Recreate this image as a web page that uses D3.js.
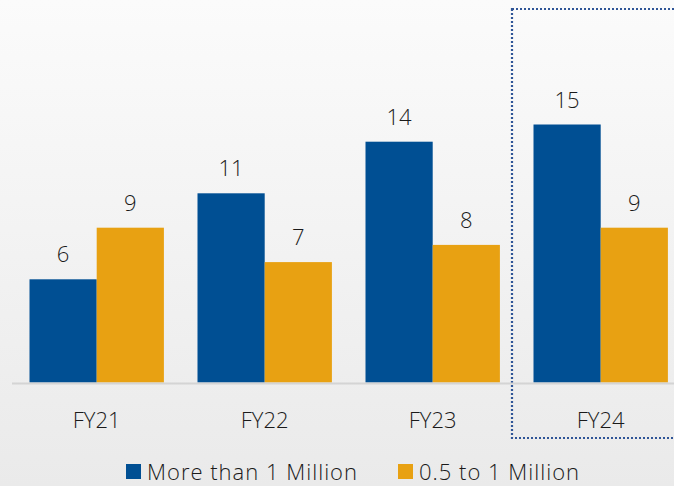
<!DOCTYPE html>
<html>
<head>
<meta charset="utf-8">
<script src="https://cdn.jsdelivr.net/npm/d3@7"></script>
<style>
  body { margin: 0; }
  svg { display: block; font-family: "Open Sans", sans-serif; font-weight: 300; }
</style>
</head>
<body>
<div id="chart"></div>
<script>
const width = 674,
    height = 486;

// data
const years = ["FY21", "FY22", "FY23", "FY24"];
const seriesNames = ["More than 1 Million", "0.5 to 1 Million"];
const moreThan1M = [6, 11, 14, 15];
const half1M = [9, 7, 8, 9];
const colors = ["#004f93", "#e8a112"];

const data = years.map((y, i) => ({ year: y, values: [moreThan1M[i], half1M[i]] }));

const svg = d3.select("#chart")
  .append("svg")
  .attr("width", width)
  .attr("height", height);

// soft grey background
const defs = svg.append("defs");
const grad = defs.append("linearGradient")
  .attr("id", "bg")
  .attr("x1", 0).attr("y1", 0).attr("x2", 0).attr("y2", 1);
grad.append("stop").attr("offset", "0%").attr("stop-color", "#fbfbfb");
grad.append("stop").attr("offset", "100%").attr("stop-color", "#eaeaea");
svg.append("rect").attr("width", width).attr("height", height).attr("fill", "url(#bg)");

const baseY = 382.5;

const x = d3.scaleBand()
  .domain(years)
  .range([12.7, 684.7])
  .paddingInner(0.2)
  .paddingOuter(0.1);

const xInner = d3.scaleBand()
  .domain([0, 1])
  .range([0, x.bandwidth()]);

const y = d3.scaleLinear()
  .domain([0, 20])
  .range([baseY, baseY - 344]);

// highlight box around FY24
svg.append("rect")
  .attr("x", 512)
  .attr("y", 9)
  .attr("width", 200)
  .attr("height", 429)
  .attr("fill", "none")
  .attr("stroke", "#2f5597")
  .attr("stroke-width", 2.2)
  .attr("stroke-dasharray", "2,2");

const groups = svg.append("g")
  .selectAll("g")
  .data(data)
  .join("g")
    .attr("transform", d => `translate(${x(d.year)},0)`);

groups.selectAll("rect")
  .data(d => d.values)
  .join("rect")
    .attr("x", (d, i) => xInner(i))
    .attr("y", d => y(d))
    .attr("width", xInner.bandwidth())
    .attr("height", d => y(0) - y(d))
    .attr("fill", (d, i) => colors[i]);

groups.selectAll("text")
  .data(d => d.values)
  .join("text")
    .attr("x", (d, i) => xInner(i) + xInner.bandwidth() / 2)
    .attr("y", d => y(d) - 17)
    .attr("text-anchor", "middle")
    .style("font-size", "22px")
    .attr("fill", "#1a1a1a")
    .text(d => d);

// baseline
svg.append("line")
  .attr("x1", 12).attr("x2", width)
  .attr("y1", baseY + 1).attr("y2", baseY + 1)
  .attr("stroke", "#d4d4d4")
  .attr("stroke-width", 2);

// category labels
const xAxis = svg.append("g")
  .attr("transform", `translate(0,${baseY})`)
  .call(d3.axisBottom(x).tickSize(0).tickPadding(0));
xAxis.select(".domain").remove();
xAxis.selectAll("text")
  .attr("dy", null)
  .attr("y", 45)
  .style("font-size", "22px")
  .style("font-family", "'Open Sans', sans-serif")
  .style("font-weight", 300)
  .attr("fill", "#1a1a1a");

// legend
const legendPos = [126, 398];
const legend = svg.append("g")
  .selectAll("g")
  .data(seriesNames)
  .join("g")
    .attr("transform", (d, i) => `translate(${legendPos[i]}, 464)`);

legend.append("rect")
  .attr("width", 15)
  .attr("height", 15)
  .attr("fill", (d, i) => colors[i]);

legend.append("text")
  .attr("x", 21)
  .attr("y", 15.5)
  .style("font-size", "22px")
  .style("letter-spacing", "1px")
  .attr("fill", "#1a1a1a")
  .text(d => d);
</script>
</body>
</html>
